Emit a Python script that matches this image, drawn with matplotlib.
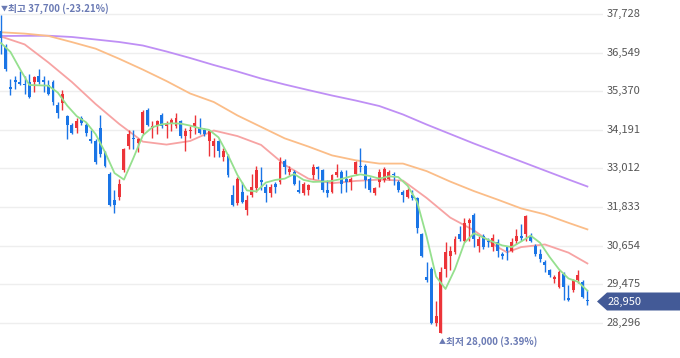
import matplotlib
matplotlib.use("Agg")
import matplotlib.pyplot as plt
from matplotlib.patches import Polygon

# daily candles (open, high, low, close)
opens = [37200, 36750, 35500, 35700, 35650, 35600, 35650, 35650, 35850, 35700,
         35550, 35650, 34950, 35000, 34600, 34350, 34250, 34550, 34350, 33900,
         33850, 34250, 33500, 32850, 32050, 32150, 32950, 33700, 33950, 33800,
         34100, 34800, 34250, 34300, 34650, 34300, 34400, 34300, 34450, 34000,
         34150, 34300, 34250, 34200, 33850, 33700, 33850, 33350, 33400, 32200,
         31950, 32300, 31750, 32200, 32400, 32650, 32450, 32250, 32550, 32600,
         33250, 32900, 32900, 32350, 32250, 32350, 32800, 33050, 32950, 32350,
         32300, 32800, 32900, 32700, 32600, 32850, 33100, 33100, 32700, 32250,
         32600, 32650, 32700, 32850, 32600, 32300, 32150, 32200, 32100, 31000,
         29700, 29950, 28300, 28000, 29950, 30350, 30450, 31000, 30800, 31350,
         31600, 30650, 30950, 30800, 30600, 30750, 30400, 30600, 30500, 30800,
         30950, 31000, 30950, 30650, 30400, 30150, 29900, 29650, 29400, 29800,
         29050, 29300, 29600, 29550, 29000]
highs = [37700, 36800, 35750, 35850, 36000, 35850, 35900, 35850, 36050, 35850,
         35700, 35700, 35050, 35400, 34650, 34400, 34550, 34600, 34400, 34200,
         33900, 34650, 33550, 32900, 32350, 32700, 33650, 34200, 34200, 33950,
         34800, 34850, 34450, 34500, 34700, 34450, 34550, 34700, 34500, 34250,
         34300, 34650, 34550, 34250, 34200, 33950, 33900, 33650, 33450, 32500,
         32750, 32600, 32200, 32850, 33100, 33050, 32550, 32550, 32600, 33350,
         33300, 33100, 32950, 32650, 32600, 32550, 33150, 33100, 33000, 32650,
         32850, 33150, 32950, 32950, 32750, 33250, 33650, 33150, 32750, 32450,
         33000, 33050, 32950, 32900, 32650, 32350, 32400, 32350, 32150, 31050,
         30150, 30000, 28950, 30000, 30750, 30650, 30950, 31250, 31500, 31500,
         31650, 30950, 31000, 30900, 31000, 30850, 30450, 30650, 30900, 31150,
         31300, 31600, 31050, 30700, 30550, 30200, 29950, 29750, 29900, 29850,
         29450, 29650, 29900, 29600, 29300]
lows = [36500, 36000, 35250, 35450, 35550, 35300, 35150, 35350, 35600, 35350,
        35250, 34950, 34550, 34800, 33900, 34050, 34100, 34350, 34000, 33800,
        33150, 33350, 33050, 31850, 31650, 32050, 32900, 33600, 33600, 33500,
        34050, 34300, 33950, 34050, 34250, 33950, 34150, 34250, 33950, 33550,
        33950, 34050, 34050, 34000, 33400, 33350, 33350, 33250, 32750, 31850,
        31900, 31950, 31600, 32150, 32300, 32350, 32000, 32150, 32250, 32550,
        32850, 32800, 32500, 32250, 32200, 32200, 32700, 32700, 32300, 32150,
        32250, 32750, 32250, 32300, 32350, 32800, 32900, 32400, 32300, 32200,
        32450, 32600, 32650, 32500, 32300, 32000, 32100, 32050, 31050, 30300,
        29550, 28250, 28200, 28000, 29700, 29900, 30400, 30800, 30750, 30800,
        30600, 30450, 30550, 30600, 30500, 30300, 30250, 30200, 30450, 30700,
        30800, 30800, 30750, 30350, 30150, 29850, 29700, 29500, 29350, 29000,
        28950, 29250, 29500, 29050, 28850]
closes = [37000, 36050, 35450, 35650, 35600, 35550, 35200, 35800, 35650, 35650,
          35300, 35050, 34700, 35300, 34350, 34100, 34450, 34400, 34100, 33850,
          33200, 33450, 33100, 31900, 31900, 32550, 33600, 34050, 33900, 33900,
          34750, 34350, 34300, 34450, 34300, 34400, 34500, 34550, 34000, 34150,
          34200, 34400, 34100, 34050, 34150, 33850, 33550, 33550, 32800, 31900,
          32700, 32000, 32050, 32450, 32950, 32600, 32250, 32450, 32450, 33200,
          33050, 33000, 32550, 32300, 32550, 32500, 33050, 33000, 32350, 32250,
          32800, 32900, 32550, 32600, 32700, 33200, 33050, 32650, 32350, 32400,
          32900, 33000, 32900, 32800, 32350, 32200, 32350, 32100, 31200, 30350,
          29600, 28300, 28500, 29850, 30450, 30500, 30850, 30850, 31350, 31450,
          30850, 30850, 30600, 30750, 30900, 30500, 30350, 30500, 30750, 30950,
          30900, 31550, 30800, 30400, 30250, 30050, 29750, 29700, 29850, 29400,
          29000, 29600, 29750, 29100, 28950]

# moving averages
ma5_idx = list(range(0, 125, 2))
ma5 = [36840, 36570, 36050, 35560, 35550, 35540, 35330, 34930, 34610, 34420,
       34060, 33510, 32870, 32670, 33330, 34020, 34270, 34360, 34390, 34380,
       34320, 34240, 34190, 33960, 33420, 32810, 32340, 32310, 32580, 32660,
       32700, 32840, 32660, 32600, 32610, 32630, 32690, 32770, 32830, 32780,
       32700, 32770, 32750, 32480, 31990, 30930, 29710, 29330, 29940, 30740,
       31030, 30900, 30770, 30660, 30610, 30780, 30960, 30740, 30310, 29930,
       29650, 29550, 29280]
ma20_idx = [0, 5, 10, 15, 20, 25, 30, 35, 40, 45, 50, 55, 60, 65, 70, 75, 80,
            85, 90, 95, 100, 105, 107, 110, 115, 120, 124]
ma20 = [37040, 36800, 36250, 35650, 34980, 34370, 33830, 33740, 33850, 34170,
        34000, 33730, 33120, 32700, 32560, 32630, 32670, 32640, 32110, 31510,
        31120, 30610, 30450, 30610, 30690, 30440, 30110]
ma60_idx = [0, 5, 10, 15, 20, 25, 30, 35, 40, 45, 50, 55, 60, 65, 70, 75, 80,
            85, 90, 95, 100, 105, 110, 115, 120, 124]
ma60 = [37170, 37130, 37060, 36870, 36670, 36360, 36030, 35680, 35300, 35040,
        34630, 34280, 33930, 33680, 33410, 33260, 33160, 33160, 32930, 32610,
        32320, 32060, 31790, 31610, 31350, 31150]
ma120_idx = [0, 5, 10, 15, 20, 25, 30, 35, 40, 45, 50, 55, 60, 65, 70, 75, 80,
             85, 90, 95, 100, 105, 110, 115, 120, 124]
ma120 = [37056, 37062, 37065, 37026, 36950, 36873, 36766, 36583, 36384, 36170,
         35972, 35758, 35575, 35405, 35239, 35086, 34918, 34660, 34353, 34063,
         33773, 33498, 33223, 32948, 32674, 32460]

yticks = [37728, 36549, 35370, 34191, 33012, 31833, 30654, 29475, 28296]
high_label = "최고 37,700 (-23.21%)"
low_label = "최저 28,000 (3.39%)"
last_label = "28,950"

FONTS = ['Noto Sans CJK KR', 'DejaVu Sans']
UP = '#ec3439'
DOWN = '#1a75e6'
NOTE = '#6a7ab4'


def grafico():
    plt.rcParams['font.family'] = FONTS
    W, H = 680, 358
    fig = plt.figure(figsize=(W / 100, H / 100), dpi=100)
    ax = fig.add_axes([0, 0, 603 / W, 1])

    n = len(closes)
    xs = list(range(n))

    # moving averages behind the candles
    ax.plot(ma120_idx, ma120, color='#bf8ff5', lw=1.3, zorder=1)
    ax.plot(ma60_idx, ma60, color='#fbbd88', lw=1.3, zorder=1)
    ax.plot(ma20_idx, ma20, color='#f7a3a3', lw=1.3, zorder=1)
    ax.plot(ma5_idx, ma5, color='#95e08e', lw=1.3, zorder=3)

    cols = [UP if c >= o else DOWN for o, c in zip(opens, closes)]
    bottoms = [min(o, c) for o, c in zip(opens, closes)]
    heights = [max(abs(c - o), 35) for o, c in zip(opens, closes)]
    ax.vlines(xs, lows, highs, colors=cols, lw=1, zorder=2)
    ax.bar(xs, heights, bottom=bottoms, width=0.62, color=cols,
           edgecolor='none', zorder=2)

    ax.set_xlim(-0.21, 127.3)
    ax.set_ylim(27222, 38156)
    ax.set_xticks([])
    ax.set_yticks([])
    for v in yticks:
        ax.axhline(v, color='#eeeeee', lw=1, zorder=0)
        ax.text(607 / 603, v, f"{v:,}", transform=ax.get_yaxis_transform(),
                ha='left', va='center', fontsize=8, color='#555555',
                clip_on=False)
    for s in ax.spines.values():
        s.set_visible(False)

    # high / low notes
    fig.text(0.5 / W, 1 - 9 / H, "▼", ha='left', va='center',
             fontsize=5, color=NOTE)
    fig.text(8.5 / W, 1 - 9 / H, high_label, ha='left', va='center',
             fontsize=7, fontweight='bold', color=NOTE)
    fig.text(438.5 / W, 1 - 342 / H, "▲", ha='left', va='center',
             fontsize=5, color=NOTE)
    fig.text(446 / W, 1 - 342 / H, low_label, ha='left', va='center',
             fontsize=7, fontweight='bold', color=NOTE)

    # current price tag
    yc, hh = 301.5, 9
    pts = [(597, yc), (607, yc - hh), (W, yc - hh), (W, yc + hh), (607, yc + hh)]
    pts = [(px / W, 1 - py / H) for px, py in pts]
    fig.patches.append(Polygon(pts, closed=True, transform=fig.transFigure,
                               facecolor='#435a97', edgecolor='none'))
    fig.text(608 / W, 1 - yc / H, last_label, ha='left', va='center',
             fontsize=8, color='white')

    plt.savefig('out.png', dpi=100)


if __name__ == "__main__":
    grafico()
